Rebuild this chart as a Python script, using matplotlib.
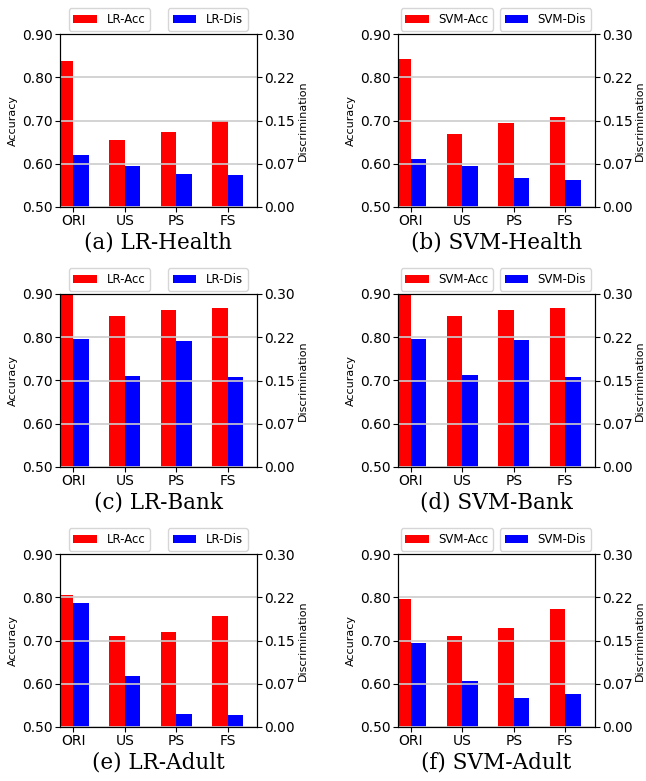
import numpy as np
import matplotlib
matplotlib.use("Agg")
import matplotlib.pyplot as plt

# methods on the x axis
methods = ["ORI", "US", "PS", "FS"]

# accuracy (left axis) and discrimination (right axis) per panel
lr_health_acc = [0.838, 0.655, 0.673, 0.699]
lr_health_dis = [0.090, 0.071, 0.057, 0.055]
svm_health_acc = [0.843, 0.669, 0.694, 0.708]
svm_health_dis = [0.083, 0.071, 0.050, 0.046]
lr_bank_acc = [0.898, 0.850, 0.864, 0.868]
lr_bank_dis = [0.222, 0.158, 0.219, 0.156]
svm_bank_acc = [0.898, 0.850, 0.864, 0.867]
svm_bank_dis = [0.222, 0.160, 0.220, 0.156]
lr_adult_acc = [0.805, 0.710, 0.720, 0.757]
lr_adult_dis = [0.215, 0.088, 0.022, 0.020]
svm_adult_acc = [0.796, 0.710, 0.728, 0.772]
svm_adult_dis = [0.146, 0.080, 0.050, 0.057]

captions = ["(a) LR-Health", "(b) SVM-Health", "(c) LR-Bank",
            "(d) SVM-Bank", "(e) LR-Adult", "(f) SVM-Adult"]
models = ["LR", "SVM", "LR", "SVM", "LR", "SVM"]

acc_ticks = [0.50, 0.60, 0.70, 0.80, 0.90]
dis_ticks = [0.0, 0.075, 0.15, 0.225, 0.30]
dis_ticklabels = ["0.00", "0.07", "0.15", "0.22", "0.30"]

panels = [
    (lr_health_acc, lr_health_dis),
    (svm_health_acc, svm_health_dis),
    (lr_bank_acc, lr_bank_dis),
    (svm_bank_acc, svm_bank_dis),
    (lr_adult_acc, lr_adult_dis),
    (svm_adult_acc, svm_adult_dis),
]

W, H = 646, 781
fig = plt.figure(figsize=(W / 100, H / 100), dpi=100)

col_left = [60, 397.7]
ax_w = 197
row_top = [34, 294, 554]
ax_h = 173

ind = np.arange(len(methods))
width = 0.3

for i, (acc, dis) in enumerate(panels):
    r, c = divmod(i, 2)
    x0 = col_left[c]
    y0 = row_top[r]
    ax1 = fig.add_axes([x0 / W, 1 - (y0 + ax_h) / H, ax_w / W, ax_h / H])
    b1 = ax1.bar(ind, acc, width, color="red", label=models[i] + "-Acc")
    ax1.set_ylim(0.5, 0.9)
    ax1.set_yticks(acc_ticks)
    ax1.set_yticklabels(["%.2f" % t for t in acc_ticks])
    ax1.set_xlim(-0.107, 3.72)
    ax1.set_xticks(ind + width / 2)
    ax1.set_xticklabels(methods)
    ax1.tick_params(labelsize=10, length=3.5, pad=1.5)
    ax1.set_ylabel("Accuracy", fontsize=8, labelpad=3)

    ax2 = ax1.twinx()
    b2 = ax2.bar(ind + width, dis, width, color="blue", label=models[i] + "-Dis")
    ax2.set_ylim(0, 0.3)
    ax2.set_yticks(dis_ticks)
    ax2.set_yticklabels(dis_ticklabels)
    ax2.tick_params(labelsize=10, length=3.5, pad=1.5)
    ax2.set_ylabel("Discrimination", fontsize=8, labelpad=2)
    ax2.grid(True, axis="y", color="0.8", linewidth=1.2)

    ax1.legend(handles=[b1], loc="lower center", bbox_to_anchor=(0.25, 1),
               fontsize=8.5, borderaxespad=0.28)
    ax2.legend(handles=[b2], loc="lower center", bbox_to_anchor=(0.75, 1),
               fontsize=8.5, borderaxespad=0.28)

    fig.text((x0 + ax_w / 2) / W, 1 - (y0 + 209) / H, captions[i],
             ha="center", va="center", fontsize=15.5, family="DejaVu Serif")

fig.savefig("out.png", dpi=100)
